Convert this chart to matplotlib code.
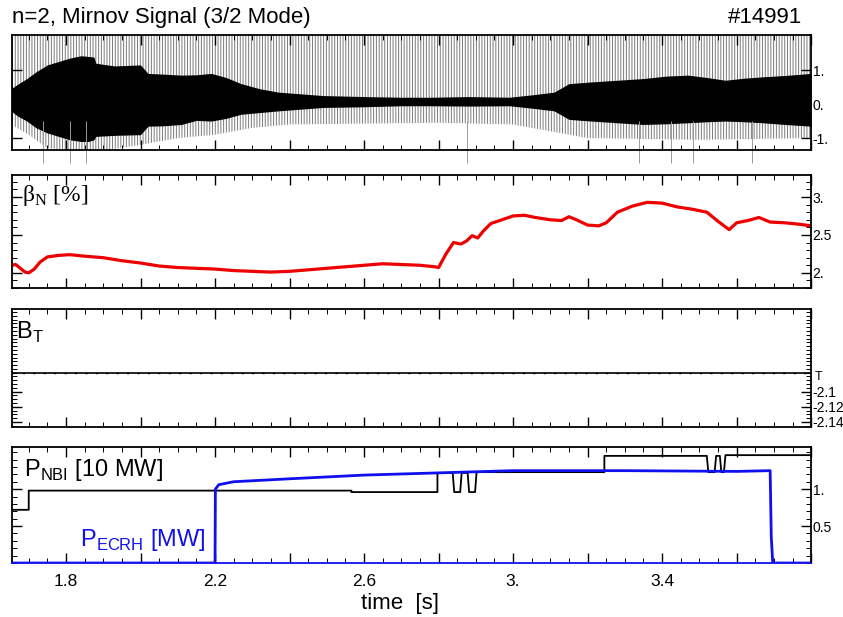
import numpy as np
import matplotlib
matplotlib.use('Agg')
import matplotlib.pyplot as plt
from matplotlib.ticker import MultipleLocator, FixedLocator, FuncFormatter

plt.rcParams['font.family'] = ['Liberation Sans', 'DejaVu Sans']
plt.rcParams['hatch.color'] = '#7a7a7a'
plt.rcParams['hatch.linewidth'] = 0.7

#Mirnov signal envelope
mirnov_t = [1.652, 1.67, 1.695, 1.72, 1.75, 1.78, 1.81, 1.84, 1.86, 1.875, 1.88, 1.93, 2.0, 2.02,
            2.06, 2.11, 2.15, 2.19, 2.23, 2.27, 2.32, 2.37, 2.43, 2.49, 2.6, 2.7, 2.78, 2.88,
            2.99, 3.05, 3.11, 3.15, 3.21, 3.28, 3.35, 3.41, 3.47, 3.52, 3.57, 3.62, 3.67, 3.73, 3.80]
mirnov_upper = [0.45, 0.58, 0.75, 0.95, 1.15, 1.25, 1.35, 1.42, 1.4, 1.38, 1.2, 1.12, 1.15, 0.9,
                0.88, 0.85, 0.86, 0.9, 0.78, 0.6, 0.45, 0.35, 0.3, 0.25, 0.22, 0.2, 0.2, 0.22,
                0.2, 0.27, 0.35, 0.6, 0.65, 0.7, 0.75, 0.82, 0.85, 0.78, 0.7, 0.76, 0.8, 0.84, 0.9]
mirnov_lower = [-0.2, -0.35, -0.5, -0.7, -0.85, -0.95, -1.05, -1.1, -1.1, -1.05, -0.95, -0.92, -0.9, -0.65,
                -0.64, -0.6, -0.48, -0.5, -0.42, -0.3, -0.25, -0.2, -0.15, -0.1, -0.08, -0.05, -0.05, -0.06,
                -0.05, -0.12, -0.2, -0.45, -0.5, -0.55, -0.6, -0.58, -0.55, -0.52, -0.5, -0.52, -0.55, -0.6, -0.65]
#reach of the grey spikes
spike_t = [1.652, 1.70, 1.75, 1.88, 2.0, 2.1, 2.2, 2.3, 2.4, 2.8, 3.0, 3.1, 3.2, 3.5, 3.80]
spike_upper = [2.1, 2.1, 2.1, 2.1, 2.1, 2.1, 2.1, 2.1, 2.1, 2.1, 2.1, 2.1, 2.1, 2.1, 2.1]
spike_lower = [-0.6, -0.9, -1.3, -1.4, -1.2, -1.0, -0.9, -0.7, -0.6, -0.55, -0.6, -0.8, -1.0, -1.05, -1.0]
long_spikes = [1.738, 1.81, 1.855, 2.877, 3.339, 3.424, 3.483, 3.64]

#beta_N [%]
beta_t = [1.655, 1.665, 1.675, 1.69, 1.70, 1.715, 1.73, 1.75, 1.78, 1.81, 1.85, 1.90, 1.95, 2.00,
          2.05, 2.10, 2.15, 2.20, 2.25, 2.30, 2.35, 2.40, 2.45, 2.50, 2.55, 2.60, 2.65, 2.70, 2.75,
          2.79, 2.80, 2.82, 2.84, 2.86, 2.875, 2.89, 2.905, 2.92, 2.94, 2.97, 3.00, 3.03, 3.06,
          3.10, 3.13, 3.15, 3.17, 3.20, 3.23, 3.25, 3.28, 3.32, 3.36, 3.40, 3.44, 3.48, 3.52, 3.55,
          3.58, 3.60, 3.63, 3.66, 3.69, 3.73, 3.77, 3.80]
beta_n = [2.10, 2.11, 2.07, 2.01, 2.00, 2.05, 2.14, 2.21, 2.23, 2.24, 2.22, 2.20, 2.16, 2.13,
          2.09, 2.07, 2.06, 2.05, 2.03, 2.02, 2.01, 2.02, 2.04, 2.06, 2.08, 2.10, 2.12, 2.11, 2.10,
          2.08, 2.07, 2.25, 2.40, 2.38, 2.42, 2.49, 2.46, 2.55, 2.65, 2.70, 2.75, 2.76, 2.73,
          2.70, 2.69, 2.74, 2.70, 2.63, 2.62, 2.66, 2.80, 2.88, 2.93, 2.92, 2.87, 2.84, 2.80, 2.68,
          2.57, 2.66, 2.69, 2.73, 2.67, 2.66, 2.64, 2.62]

#toroidal field [T]
bt_t = [1.655, 3.80]
bt = [-2.076, -2.076]

#heating powers
nbi_t = [1.655, 1.70, 1.70, 2.566, 2.566, 2.797, 2.797, 2.838, 2.842, 2.858, 2.862, 2.878, 2.882,
         2.898, 2.902, 3.245, 3.245, 3.52, 3.524, 3.541, 3.545, 3.555, 3.559, 3.566, 3.570, 3.80]
nbi = [0.72, 0.72, 0.98, 0.98, 0.96, 0.96, 1.22, 1.22, 0.96, 0.96, 1.22, 1.22, 0.96,
       0.96, 1.23, 1.23, 1.45, 1.45, 1.23, 1.23, 1.45, 1.45, 1.23, 1.23, 1.46, 1.46]
ecrh_t = [1.655, 2.20, 2.201, 2.21, 2.25, 2.40, 2.60, 2.80, 3.00, 3.30, 3.60, 3.69, 3.693, 3.697, 3.80]
ecrh = [0.0, 0.0, 1.0, 1.06, 1.10, 1.14, 1.19, 1.22, 1.25, 1.25, 1.24, 1.25, 0.35, 0.0, 0.0]

xlabels_at = [1.8, 2.2, 2.6, 3.0, 3.4]


def num_fmt(v, pos=None):
    s = ('%.2f' % v).rstrip('0')
    return s


def style_axis(ax, ymajor, yminor=None):
    ax.set_xlim(1.655, 3.80)
    ax.xaxis.set_major_locator(MultipleLocator(0.2))
    ax.xaxis.set_minor_locator(MultipleLocator(0.05))
    ax.yaxis.set_major_locator(FixedLocator(ymajor))
    if yminor is not None:
        ax.yaxis.set_minor_locator(MultipleLocator(yminor))
    ax.tick_params(which='both', direction='in', top=True, bottom=True, left=True, right=True,
                   labelleft=False, labelright=True, labelbottom=False, pad=1, labelsize=10)
    ax.tick_params(which='major', length=7, width=1)
    ax.tick_params(which='minor', length=3.5, width=0.7)
    ax.yaxis.set_major_formatter(FuncFormatter(num_fmt))
    for sp in ax.spines.values():
        sp.set_linewidth(1.3)


fig = plt.figure(figsize=(8.43, 6.17), dpi=100)
left, width = 0.0142, 0.948
ax1 = fig.add_axes([left, 0.7569, width, 0.1864])
ax2 = fig.add_axes([left, 0.5332, width, 0.1831])
ax3 = fig.add_axes([left, 0.3079, width, 0.1912])
ax4 = fig.add_axes([left, 0.0875, width, 0.188])

##Mirnov
ax1.fill_between(spike_t, spike_lower, spike_upper, facecolor='none', edgecolor='#7a7a7a',
                 hatch='||||||', linewidth=0)
ax1.fill_between(mirnov_t, mirnov_lower, mirnov_upper, color='black', linewidth=0)
ax1.vlines(long_spikes, -1.73, -0.5, color='#9a9a9a', linewidth=0.7, clip_on=False)
ax1.set_ylim(-1.35, 2.03)
style_axis(ax1, [-1, 0, 1])
fig.text(0.014, 0.972, 'n=2, Mirnov Signal (3/2 Mode)', fontsize=16, va='center', ha='left')
fig.text(0.951, 0.972, '#14991', fontsize=16, va='center', ha='right')

##beta_N
ax2.plot(beta_t, beta_n, color='#ee0000', linewidth=2.3)
ax2.set_ylim(1.80, 3.29)
style_axis(ax2, [2.0, 2.5, 3.0], 0.1)
ax2.text(0.012, 0.82, r'β$_\mathregular{N}$ [%]', transform=ax2.transAxes, fontsize=17,
         family='Liberation Serif', va='center')

##B_T
ax3.plot(bt_t, bt, color='black', linewidth=1.2)
ax3.plot(bt_t, [b + 0.0012 for b in bt], color='black', linewidth=1.0, linestyle=(0, (1.5, 6)))
ax3.set_ylim(-2.1467, -1.991)
style_axis(ax3, [-2.14, -2.12, -2.1], 0.005)
ax3.text(0.005, 0.8, r'B$_\mathregular{T}$', transform=ax3.transAxes, fontsize=17, va='center')
ax3.text(1.004, 0.425, 'T', transform=ax3.transAxes, fontsize=9, va='center', ha='left')

##Heating
ax4.plot(nbi_t, nbi, color='black', linewidth=1.3)
ax4.plot(ecrh_t, ecrh, color='#1010ee', linewidth=2)
ax4.set_ylim(0, 1.57)
style_axis(ax4, [0.5, 1.0], 0.1)
ax4.spines['bottom'].set_color('#1010ee')
ax4.xaxis.set_major_formatter(FuncFormatter(
    lambda v, p: num_fmt(v) if any(abs(v - l) < 1e-6 for l in xlabels_at) else ''))
ax4.tick_params(labelbottom=True, axis='x', labelsize=12.5, pad=8)
ax4.text(0.015, 0.8, r'P$_\mathregular{NBI}$ [10 MW]', transform=ax4.transAxes, fontsize=17,
         va='center')
ax4.text(0.085, 0.2, r'P$_\mathregular{ECRH}$ [MW]', transform=ax4.transAxes, fontsize=17,
         va='center', color='#1010ee')
fig.text(0.475, 0.022, 'time  [s]', fontsize=16, ha='center', va='center')

plt.savefig('out.png', dpi=100)
